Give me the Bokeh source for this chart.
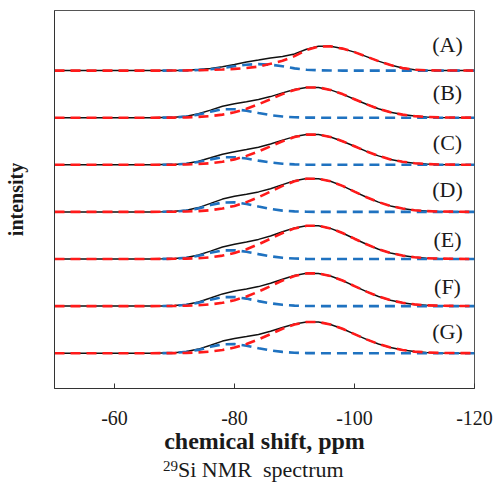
from bokeh.plotting import figure
from bokeh.models import Range1d, FixedTicker, Div
from bokeh.layouts import column
from bokeh.core.properties import value
from bokeh.embed import file_html
from bokeh.resources import INLINE

# chemical shift grid (ppm)
ppm = [-50, -66, -68, -70, -72, -74, -76, -78, -80, -82, -84, -86, -88, -90,
       -92, -94, -96, -98, -100, -102, -104, -106, -108, -110, -112, -114, -120]

labels = ["(A)", "(B)", "(C)", "(D)", "(E)", "(F)", "(G)"]

# measured spectra (black)
total_A = [0, 0, 0, 0.2, 0.4, 1.0, 2.0, 3.8, 6.1, 8.5, 10.5, 12.7, 14.2, 16.7, 21.4, 24.3, 24.3, 22.0, 18.5, 14.0, 9.5, 5.5, 2.5, 0.9, 0.3, 0.1, 0]
total_B = [0, 0, 0.2, 0.4, 1.5, 3.9, 7.6, 11.5, 13.9, 15.9, 18.1, 21.1, 24.8, 28.2, 30.3, 30.2, 27.8, 23.6, 18.5, 13.4, 8.9, 5.4, 3.1, 1.6, 0.8, 0.3, 0]
total_C = [0, 0, 0.2, 0.4, 1.4, 3.6, 7.0, 10.6, 13.0, 15.2, 17.6, 20.8, 24.7, 28.2, 30.3, 30.2, 27.8, 23.6, 18.5, 13.4, 8.9, 5.4, 3.1, 1.6, 0.8, 0.3, 0]
total_D = [0, 0, 0.2, 0.6, 1.7, 4.3, 8.5, 12.8, 15.6, 17.7, 20.0, 23.2, 27.3, 31.1, 33.4, 33.2, 30.6, 26.0, 20.3, 14.7, 9.8, 6.0, 3.4, 1.7, 0.8, 0.4, 0]
total_E = [0, 0, 0.2, 0.5, 1.6, 4.0, 7.9, 12.0, 14.8, 17.0, 19.6, 23.0, 27.2, 31.1, 33.3, 33.2, 30.6, 26.0, 20.3, 14.7, 9.8, 6.0, 3.4, 1.7, 0.8, 0.4, 0]
total_F = [0, 0, 0.2, 0.5, 1.7, 4.1, 8.1, 12.2, 15.0, 17.1, 19.5, 22.8, 26.9, 30.6, 32.8, 32.7, 30.1, 25.6, 20.0, 14.5, 9.6, 5.9, 3.3, 1.7, 0.8, 0.4, 0]
total_G = [0, 0, 0.2, 0.4, 1.6, 4.1, 8.0, 12.1, 14.7, 16.7, 18.8, 21.9, 25.7, 29.2, 31.3, 31.2, 28.7, 24.4, 19.1, 13.8, 9.2, 5.6, 3.2, 1.6, 0.8, 0.3, 0]

# main deconvolved component (red dashed)
main_A = [0, 0, 0, 0.1, 0.2, 0.4, 0.7, 1.1, 1.7, 2.6, 4.0, 6.8, 9.8, 14.5, 20.5, 24.0, 24.2, 22.0, 18.5, 14.0, 9.5, 5.5, 2.5, 0.9, 0.3, 0.1, 0]
main_B = [0, 0, 0.1, 0.1, 0.3, 0.8, 1.6, 3.1, 5.4, 8.9, 13.4, 18.5, 23.6, 27.8, 30.2, 30.2, 27.8, 23.6, 18.5, 13.4, 8.9, 5.4, 3.1, 1.6, 0.8, 0.3, 0]
main_C = [0, 0, 0.1, 0.1, 0.3, 0.8, 1.6, 3.1, 5.4, 8.9, 13.4, 18.5, 23.6, 27.8, 30.2, 30.2, 27.8, 23.6, 18.5, 13.4, 8.9, 5.4, 3.1, 1.6, 0.8, 0.3, 0]
main_D = [0, 0, 0.1, 0.2, 0.4, 0.8, 1.7, 3.4, 6.0, 9.8, 14.7, 20.3, 26.0, 30.6, 33.2, 33.2, 30.6, 26.0, 20.3, 14.7, 9.8, 6.0, 3.4, 1.7, 0.8, 0.4, 0]
main_E = [0, 0, 0.1, 0.2, 0.4, 0.8, 1.7, 3.4, 6.0, 9.8, 14.7, 20.3, 26.0, 30.6, 33.2, 33.2, 30.6, 26.0, 20.3, 14.7, 9.8, 6.0, 3.4, 1.7, 0.8, 0.4, 0]
main_F = [0, 0, 0.1, 0.2, 0.4, 0.8, 1.7, 3.3, 5.9, 9.6, 14.5, 20.0, 25.6, 30.1, 32.7, 32.7, 30.1, 25.6, 20.0, 14.5, 9.6, 5.9, 3.3, 1.7, 0.8, 0.4, 0]
main_G = [0, 0, 0.1, 0.1, 0.3, 0.8, 1.6, 3.2, 5.6, 9.2, 13.8, 19.1, 24.4, 28.7, 31.2, 31.2, 28.7, 24.4, 19.1, 13.8, 9.2, 5.6, 3.2, 1.6, 0.8, 0.3, 0]

# minor deconvolved component (blue dashed); None = not drawn
minor_A = [None, None, 0, 0.1, 0.2, 0.6, 1.3, 2.7, 4.4, 5.9, 6.5, 5.9, 4.4, 2.2, 0.9, 0.3, 0.1, 0, 0, 0, 0, 0, 0, 0, 0, 0, 0]
minor_B = [None, None, 0.1, 0.3, 1.2, 3.1, 6.0, 8.4, 8.5, 7.0, 4.7, 2.6, 1.2, 0.4, 0.1, 0, 0, 0, 0, 0, 0, 0, 0, 0, 0, 0, 0]
minor_C = [None, None, 0.1, 0.3, 1.1, 2.8, 5.4, 7.5, 7.6, 6.3, 4.2, 2.3, 1.1, 0.4, 0.1, 0, 0, 0, 0, 0, 0, 0, 0, 0, 0, 0, 0]
minor_D = [None, None, 0.1, 0.4, 1.3, 3.5, 6.8, 9.4, 9.6, 7.9, 5.3, 2.9, 1.3, 0.5, 0.2, 0, 0, 0, 0, 0, 0, 0, 0, 0, 0, 0, 0]
minor_E = [None, None, 0.1, 0.3, 1.2, 3.2, 6.2, 8.6, 8.8, 7.2, 4.9, 2.7, 1.2, 0.5, 0.1, 0, 0, 0, 0, 0, 0, 0, 0, 0, 0, 0, 0]
minor_F = [None, None, 0.1, 0.3, 1.3, 3.3, 6.4, 8.9, 9.1, 7.5, 5.0, 2.8, 1.3, 0.5, 0.1, 0, 0, 0, 0, 0, 0, 0, 0, 0, 0, 0, 0]
minor_G = [None, None, 0.1, 0.3, 1.3, 3.3, 6.4, 8.9, 9.1, 7.5, 5.0, 2.8, 1.3, 0.5, 0.1, 0, 0, 0, 0, 0, 0, 0, 0, 0, 0, 0, 0]

x_ticks = [-60, -80, -100, -120]
x_tick_labels = ["-60", "-80", "-100", "-120"]

totals = [total_A, total_B, total_C, total_D, total_E, total_F, total_G]
mains = [main_A, main_B, main_C, main_D, main_E, main_F, main_G]
minors = [minor_A, minor_B, minor_C, minor_D, minor_E, minor_F, minor_G]

SERIF = "Liberation Serif"
BASE = 35.3      # stacking baseline of lowest trace
STEP = 47.1      # vertical offset between traces
LABEL_X = -115.5
LABEL_DY = [26, 25, 22, 22, 20, 20, 22]   # label lift above each baseline

p = figure(width=498, height=460, output_backend="svg", toolbar_location=None,
           x_range=Range1d(-50, -120), y_range=Range1d(0, 378),
           min_border_left=54, min_border_right=24, min_border_top=10,
           min_border_bottom=72)
p.background_fill_color = "white"
p.border_fill_color = "white"
p.outline_line_color = "#555555"
p.outline_line_width = 1
p.grid.visible = False

n = len(totals)
for i in range(n):
    off = BASE + (n - 1 - i) * STEP
    yt = [v + off for v in totals[i]]
    ym = [v + off for v in mains[i]]
    yb = [float("nan") if v is None else v + off for v in minors[i]]
    p.line(ppm, yt, line_color="#111111", line_width=1.5)
    p.line(ppm, yb, line_color="#1F72C0", line_width=2.6, line_dash="10 6")
    p.line(ppm, ym, line_color="#FF1A1A", line_width=2.6, line_dash="10 6")

lab_y = [BASE + (n - 1 - i) * STEP + LABEL_DY[i] for i in range(n)]
p.text(x=[LABEL_X] * n, y=lab_y, text=labels, text_font=value(SERIF),
       text_font_size="22px", text_align="center", text_baseline="middle",
       text_color="#1a1a1a")

xa = p.xaxis[0]
xa.ticker = FixedTicker(ticks=x_ticks)
xa.major_label_overrides = {t: s for t, s in zip(x_ticks, x_tick_labels)}
xa.minor_tick_line_color = None
xa.major_tick_in = 5
xa.major_tick_out = 0
xa.major_tick_line_color = "#333333"
xa.axis_line_color = "#333333"
xa.major_label_text_font = SERIF
xa.major_label_text_font_size = "20px"
xa.major_label_text_color = "#1a1a1a"
xa.major_label_standoff = 22
xa.axis_label = "chemical shift, ppm"
xa.axis_label_text_font = SERIF
xa.axis_label_text_font_style = "bold"
xa.axis_label_text_font_size = "24px"
xa.axis_label_text_color = "#1a1a1a"
xa.axis_label_standoff = 0

ya = p.yaxis[0]
ya.ticker = FixedTicker(ticks=[])
ya.minor_tick_line_color = None
ya.major_tick_line_color = None
ya.axis_line_color = "#333333"
ya.axis_label = "intensity"
ya.axis_label_text_font = SERIF
ya.axis_label_text_font_style = "bold"
ya.axis_label_text_font_size = "20px"
ya.axis_label_text_color = "#1a1a1a"
ya.axis_label_standoff = 28

caption = Div(
    text='<span style="font-size:15px; vertical-align:6px; line-height:0">29</span>'
         'Si NMR&nbsp; spectrum',
    width=498, height=23, margin=(0, 0, 0, 0),
    styles={"font-family": "'Liberation Serif'", "font-size": "22px",
            "line-height": "20px", "padding-left": "163px",
            "color": "#1a1a1a", "white-space": "nowrap"})

layout = column(p, caption, spacing=0)
open("out.html", "w").write(file_html(layout, INLINE))
